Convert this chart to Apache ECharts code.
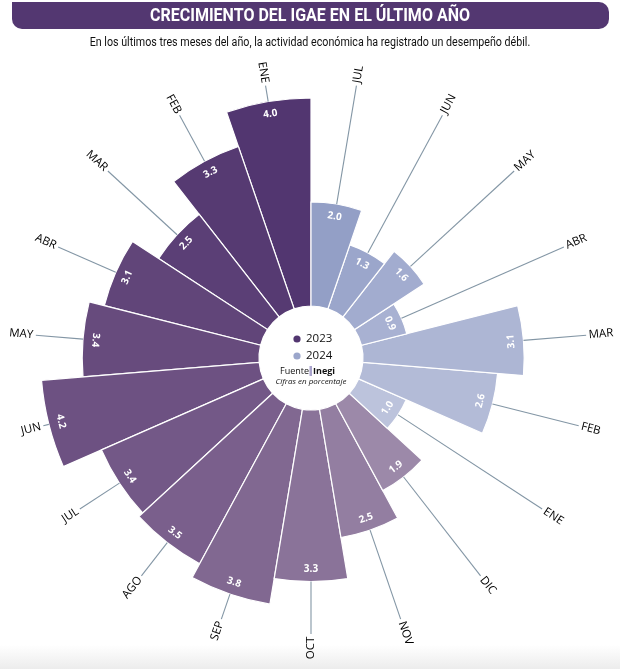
<!DOCTYPE html>
<html>
<head>
<meta charset="utf-8">
<script src="https://cdn.jsdelivr.net/npm/echarts@6/dist/echarts.min.js"></script>
<style>
html,body{margin:0;padding:0;background:#fff;}
#chart{width:620px;height:669px;}
</style>
</head>
<body>
<div id="chart"></div>
<script>
// ---- data ----
const months2023 = ['ENE','FEB','MAR','ABR','MAY','JUN','JUL','AGO','SEP','OCT','NOV','DIC'];
const months2024 = ['ENE','FEB','MAR','ABR','MAY','JUN','JUL'];
const values2023 = [4.0, 3.3, 2.5, 3.1, 3.4, 4.2, 3.4, 3.5, 3.8, 3.3, 2.5, 1.9];
const values2024 = [1.0, 2.6, 3.1, 0.9, 1.6, 1.3, 2.0];
const legendYears = ['2023', '2024'];

// ---- style ----
const colors2023 = ['#523670','#563a72','#5b3f76','#614579','#674b7d','#6d5182','#735887','#7a5f8c','#816891','#8a7399','#937ea1','#9c89a9'];
const colors2024 = ['#bcc3dc','#b3bbd7','#adb6d4','#a8b1d2','#a2accf','#9ba6cb','#939fc6'];

const categories = months2023.map(m => m + ' 2023').concat(months2024.map(m => m + ' 2024'));
const monthLabels = months2023.concat(months2024);
const values = values2023.concat(values2024);
const barColors = colors2023.concat(colors2024);

const LEAD_R = 4.31;
const TEXT_R = 4.36;
const VAL_OFF = 0.24;

const chart = echarts.init(document.getElementById('chart'), null, {renderer: 'canvas'});

const option = {
  backgroundColor: '#ffffff',
  animation: false,
  polar: { center: [311, 358], radius: [52, 312] },
  angleAxis: {
    type: 'category',
    data: categories,
    startAngle: 90,
    clockwise: false,
    axisLine: {show: false}, axisTick: {show: false}, axisLabel: {show: false}, splitLine: {show: false}
  },
  radiusAxis: {
    type: 'value', min: 0, max: 5,
    axisLine: {show: false}, axisTick: {show: false}, axisLabel: {show: false}, splitLine: {show: false}
  },
  series: [
    {
      type: 'bar',
      coordinateSystem: 'polar',
      barCategoryGap: '0%',
      silent: true,
      data: values.map((v, i) => ({ value: v, itemStyle: { color: barColors[i] } })),
      itemStyle: { borderColor: '#ffffff', borderWidth: 1.2 }
    },
    {
      type: 'custom',
      coordinateSystem: 'polar',
      silent: true,
      z: 5,
      data: values.map((v, i) => [v, i]),
      encode: { radius: 0, angle: 1 },
      renderItem: function (params, api) {
        const i = params.dataIndex;
        const v = values[i];
        const cs = params.coordSys;
        const p0 = api.coord([v, i]);
        const p1 = api.coord([LEAD_R, i]);
        const pt = api.coord([TEXT_R, i]);
        const pv = api.coord([v - VAL_OFF, i]);
        const theta = Math.atan2(cs.cy - p0[1], p0[0] - cs.cx);
        const rightSide = Math.cos(theta) >= 0;
        const rotM = rightSide ? theta : theta - Math.PI;
        let rotV = theta + Math.PI / 2;
        while (rotV > Math.PI) rotV -= 2 * Math.PI;
        while (rotV <= -Math.PI) rotV += 2 * Math.PI;
        if (Math.abs(rotV) > 100 * Math.PI / 180) {
          rotV = rotV > 0 ? rotV - Math.PI : rotV + Math.PI;
        }
        return {
          type: 'group',
          children: [
            {
              type: 'line',
              shape: { x1: p0[0], y1: p0[1], x2: p1[0], y2: p1[1] },
              style: { stroke: '#8396a5', lineWidth: 1.1 }
            },
            {
              type: 'text',
              x: pt[0], y: pt[1], rotation: rotM,
              style: {
                text: monthLabels[i],
                align: rightSide ? 'left' : 'right',
                verticalAlign: 'middle',
                fontSize: 11.5,
                fontFamily: 'Open Sans, Noto Sans, sans-serif',
                fill: '#000000'
              }
            },
            {
              type: 'text',
              x: pv[0], y: pv[1], rotation: rotV,
              style: {
                text: v.toFixed(1),
                align: 'center',
                verticalAlign: 'middle',
                fontSize: 10,
                fontWeight: 'bold',
                fontFamily: 'Open Sans, Noto Sans, sans-serif',
                fill: '#ffffff'
              }
            }
          ]
        };
      }
    }
  ],
  graphic: [
    {
      type: 'rect', left: 0, top: 645, silent: true,
      shape: { width: 620, height: 24 },
      style: {
        fill: new echarts.graphic.LinearGradient(0, 0, 0, 1, [
          { offset: 0, color: '#ffffff' }, { offset: 1, color: '#ececec' }
        ])
      }
    },
    {
      type: 'rect', left: 12, top: 2, silent: true,
      shape: { width: 597, height: 27, r: [0, 10, 10, 10] },
      style: { fill: '#533771' }
    },
    {
      type: 'text', x: 310, y: 16, scaleX: 0.89, silent: true,
      style: {
        text: 'CRECIMIENTO DEL IGAE EN EL ÚLTIMO AÑO',
        align: 'center', verticalAlign: 'middle',
        fontSize: 18, fontWeight: 'bold',
        fontFamily: 'Roboto, Liberation Sans, sans-serif',
        fill: '#ffffff'
      }
    },
    {
      type: 'text', x: 310, y: 43, scaleX: 0.855, silent: true,
      style: {
        text: 'En los últimos tres meses del año, la actividad económica ha registrado un desempeño débil.',
        align: 'center', verticalAlign: 'middle',
        fontSize: 12.5,
        fontFamily: 'Roboto, Liberation Sans, sans-serif',
        fill: '#111111'
      }
    },
    { type: 'circle', silent: true, shape: { cx: 297, cy: 339, r: 3.6 }, style: { fill: colors2023[0] } },
    { type: 'circle', silent: true, shape: { cx: 297, cy: 356, r: 3.6 }, style: { fill: colors2024[5] } },
    {
      type: 'text', x: 306, y: 339, silent: true,
      style: { text: legendYears[0], fontSize: 11.5, fontFamily: 'Open Sans, sans-serif', fill: '#111', verticalAlign: 'middle' }
    },
    {
      type: 'text', x: 306, y: 356, silent: true,
      style: { text: legendYears[1], fontSize: 11.5, fontFamily: 'Open Sans, sans-serif', fill: '#111', verticalAlign: 'middle' }
    },
    {
      type: 'text', x: 309, y: 371, silent: true,
      style: { text: 'Fuente', align: 'right', verticalAlign: 'middle', fontSize: 9, fontFamily: 'Open Sans, sans-serif', fill: '#111' }
    },
    {
      type: 'rect', silent: true,
      shape: { x: 309.5, y: 366, width: 2.5, height: 10 },
      style: { fill: '#a9a3cc' }
    },
    {
      type: 'text', x: 313, y: 371, silent: true,
      style: { text: 'Inegi', align: 'left', verticalAlign: 'middle', fontSize: 9, fontWeight: 'bold', fontFamily: 'Open Sans, sans-serif', fill: '#111' }
    },
    {
      type: 'text', x: 311, y: 382, silent: true,
      style: {
        text: 'Cifras en porcentaje',
        align: 'center', verticalAlign: 'middle',
        fontSize: 8, fontStyle: 'italic',
        fontFamily: 'Open Sans, sans-serif', fill: '#111'
      }
    }
  ]
};
chart.setOption(option);
</script>
</body>
</html>
